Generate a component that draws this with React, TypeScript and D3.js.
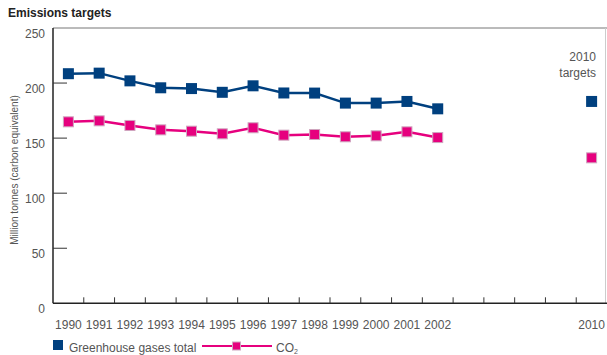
import React from "react";
import * as d3 from "d3";

const categories = ["1990","1991","1992","1993","1994","1995","1996","1997","1998","1999","2000","2001","2002","g1","g2","g3","g4","2010"];
const years = ["1990","1991","1992","1993","1994","1995","1996","1997","1998","1999","2000","2001","2002"];
const ghg = [208.5, 209, 202, 195.7, 195, 191.6, 197.5, 191, 190.9, 181.8, 181.8, 183.3, 176.6];
const co2 = [164.8, 165.7, 161.5, 157.5, 156.3, 153.9, 159.4, 152.7, 153.3, 151.2, 152.1, 155.7, 150.5];
const targetYear = "2010";
const ghgTarget = 183.3;
const co2Target = 132.1;
const yTicks = [0, 50, 100, 150, 200, 250];

const BLUE = "#00407f";
const PINK = "#e6007e";
const FONT = "Liberation Sans, Arial, Helvetica, sans-serif";

export default function App() {
  const W = 607, H = 355;
  const left = 53, right = 607, top = 28, bottom = 303.3;
  const x = d3.scaleBand<string>().domain(categories).range([left, right]).padding(0);
  const y = d3.scaleLinear().domain([0, 250]).range([bottom, top]);
  const cx = (c: string) => (x(c) as number) + x.bandwidth() / 2;
  const line = d3.line<number>().x((_, i) => cx(years[i])).y((d) => y(d));
  const tickXs = categories.slice(1).map((c) => x(c) as number);

  const blueSq = (px: number, py: number, k: string) => (
    <rect key={k} x={px - 5.5} y={py - 5.5} width={11} height={11} fill={BLUE} />
  );
  const pinkSq = (px: number, py: number, k: string) => (
    <rect key={k} x={px - 5} y={py - 5} width={10} height={10} fill={PINK} stroke="#cfa6bf" strokeWidth={1} />
  );

  return (
    <svg width={W} height={H} style={{ position: "absolute", left: 0, top: 0, background: "#fff" }} fontFamily={FONT}>
      <text x={8} y={17} fontSize={12} fontWeight="bold" fill="#222">Emissions targets</text>
      {/* frame */}
      <line x1={left} x2={right} y1={top} y2={top} stroke="#777" strokeWidth={1} />
      <line x1={605.5} x2={605.5} y1={top} y2={bottom} stroke="#ccc" strokeWidth={1} />
      <line x1={left} x2={left} y1={top} y2={bottom} stroke="#222" strokeWidth={1.5} />
      <line x1={left} x2={right} y1={bottom} y2={bottom} stroke="#222" strokeWidth={1.5} />
      {/* y ticks */}
      {yTicks.map((t) => (
        <g key={t}>
          {t > 0 && t < 250 && <line x1={left} x2={left + 14} y1={y(t)} y2={y(t)} stroke="#333" strokeWidth={1} />}
          <text x={45} y={y(t) + 10} textAnchor="end" fontSize={12} fill="#555">{t}</text>
        </g>
      ))}
      {/* x ticks */}
      {tickXs.map((tx, i) => (
        <line key={i} x1={tx} x2={tx} y1={bottom - 6} y2={bottom} stroke="#333" strokeWidth={1} />
      ))}
      {[...years, targetYear].map((c) => (
        <text key={c} x={cx(c)} y={329} textAnchor="middle" fontSize={12} fill="#555">{c}</text>
      ))}
      <text transform={`translate(18,170) rotate(-90)`} textAnchor="middle" fontSize={10} fill="#555">
        Million tonnes (carbon equivalent)
      </text>
      {/* series */}
      <path d={line(ghg) as string} fill="none" stroke={BLUE} strokeWidth={2.5} />
      <path d={line(co2) as string} fill="none" stroke={PINK} strokeWidth={2.5} />
      {ghg.map((v, i) => blueSq(cx(years[i]), y(v), "b" + i))}
      {co2.map((v, i) => pinkSq(cx(years[i]), y(v), "p" + i))}
      {blueSq(cx(targetYear), y(ghgTarget), "bt")}
      {pinkSq(cx(targetYear), y(co2Target), "pt")}
      <text x={596} y={61} textAnchor="end" fontSize={12} fill="#555">2010</text>
      <text x={596} y={77} textAnchor="end" fontSize={12} fill="#555">targets</text>
      {/* legend */}
      <rect x={53} y={340} width={10} height={10} fill={BLUE} />
      <text x={69} y={352} fontSize={12} fill="#555">Greenhouse gases total</text>
      <line x1={202} x2={272} y1={346} y2={346} stroke={PINK} strokeWidth={2} />
      <rect x={232.5} y={342} width={8} height={8} fill={PINK} stroke="#cfa6bf" strokeWidth={1} />
      <text x={276} y={352} fontSize={12} fill="#555">CO<tspan fontSize={7} dy={2}>2</tspan></text>
    </svg>
  );
}
